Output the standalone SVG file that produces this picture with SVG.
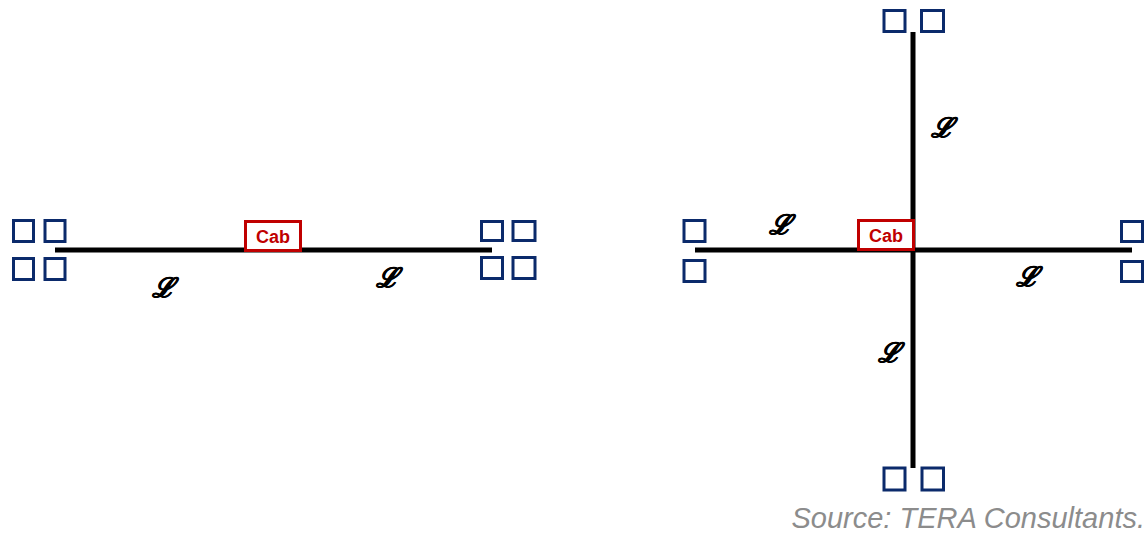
<svg xmlns="http://www.w3.org/2000/svg" width="1148" height="533" viewBox="0 0 1148 533">
<style>
.sq{fill:#fff;stroke:#0b2a6b;stroke-width:3}
.ln{stroke:#000;stroke-width:5;fill:none}
.cab{fill:#fff;stroke:#c00000;stroke-width:3}
.cabt{font-family:"Liberation Sans",Arial,sans-serif;font-weight:bold;font-size:18px;fill:#c00000;text-anchor:middle}
.L{font-family:"DejaVu Serif",serif;font-style:italic;font-weight:bold;font-size:27px;fill:#000;stroke:#000;stroke-width:0.6;text-anchor:middle}
.src{font-family:"Liberation Sans",Arial,sans-serif;font-style:italic;font-size:29px;fill:#8c8c8c;text-anchor:end}
</style>
<g id="connectors">
<line class="ln" x1="55" y1="250" x2="492" y2="250"/>
<line class="ln" x1="695" y1="250" x2="1132" y2="250"/>
<line class="ln" x1="913" y1="32" x2="913" y2="468"/>
</g>
<g id="left-end-sites">
<rect class="sq" x="13.5" y="220.5" width="20" height="21"/>
<rect class="sq" x="45" y="220.5" width="20" height="21"/>
<rect class="sq" x="13.5" y="258.5" width="20" height="21"/>
<rect class="sq" x="45" y="258.5" width="20" height="21"/>
</g>
<g id="left-cab">
<rect class="cab" x="245.5" y="221.5" width="55" height="29"/>
<text class="cabt" x="273" y="243">Cab</text>
</g>
<g id="right-end-sites">
<rect class="sq" x="481.5" y="221.5" width="21" height="19"/>
<rect class="sq" x="513" y="221.5" width="22" height="19"/>
<rect class="sq" x="481.5" y="257.5" width="21" height="21"/>
<rect class="sq" x="513" y="257.5" width="22" height="21"/>
</g>
<g id="left-labels">
<text class="L" x="163" y="297">ℒ</text>
<text class="L" x="387" y="287">ℒ</text>
</g>
<g id="star-top">
<rect class="sq" x="884" y="10.5" width="21" height="21"/>
<rect class="sq" x="921.5" y="10.5" width="22" height="21"/>
</g>
<g id="star-bottom">
<rect class="sq" x="884" y="468" width="21" height="22"/>
<rect class="sq" x="922" y="468" width="21.5" height="22"/>
</g>
<g id="star-left">
<rect class="sq" x="684" y="220.5" width="21" height="21"/>
<rect class="sq" x="684" y="260.5" width="21" height="21"/>
</g>
<g id="star-right">
<rect class="sq" x="1121.5" y="221.5" width="21" height="20"/>
<rect class="sq" x="1121.5" y="261.5" width="21" height="20"/>
</g>
<g id="star-cab">
<rect class="cab" x="858.5" y="220.5" width="55" height="29"/>
<text class="cabt" x="886" y="242">Cab</text>
</g>
<g id="star-labels">
<text class="L" x="780" y="234">ℒ</text>
<text class="L" x="942" y="137">ℒ</text>
<text class="L" x="1027" y="286">ℒ</text>
<text class="L" x="889" y="362">ℒ</text>
</g>
<text class="src" x="1145" y="528">Source: TERA Consultants.</text>
</svg>
